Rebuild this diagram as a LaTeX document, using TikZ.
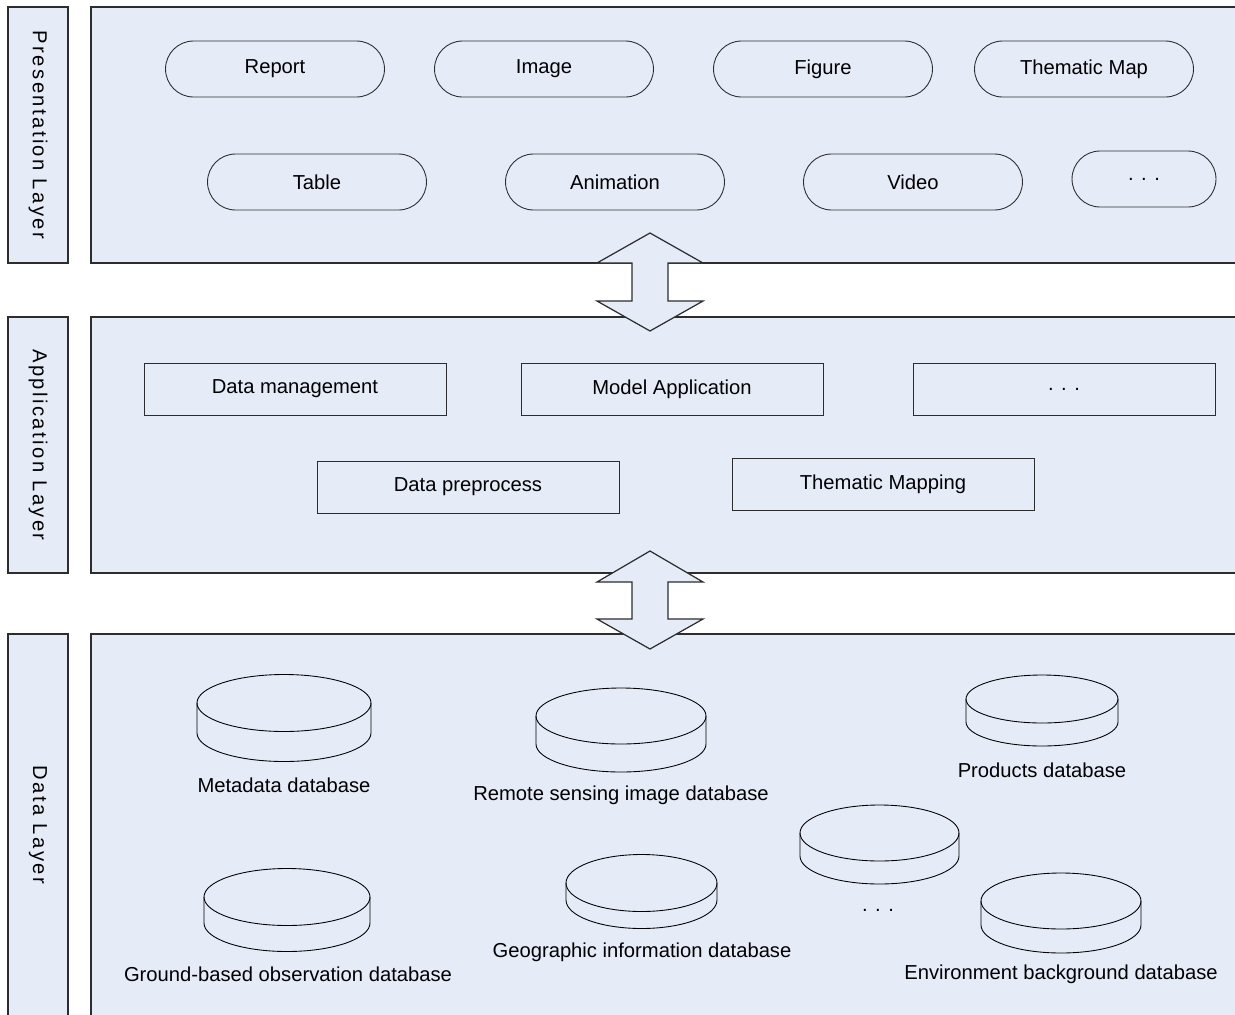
\documentclass[tikz,border=0pt]{standalone}
\usepackage{fontspec}
\setmainfont{Liberation Sans}
\usepackage{tikz}
\usetikzlibrary{shapes.misc}
\definecolor{panelblue}{RGB}{230,236,247}
\definecolor{edgegray}{RGB}{45,45,45}

\begin{document}
\begin{tikzpicture}[x=0.02cm, y=0.02cm, font=\fontsize{11.5}{13}\selectfont,
    panel/.style = {draw=edgegray, fill=panelblue, line width=0.7pt},
    pill/.style = {rounded rectangle, draw=edgegray, line width=0.5pt, minimum width=4.38cm, minimum height=1.12cm, inner sep=0pt},
    appbox/.style = {rectangle, draw=edgegray, line width=0.5pt, minimum width=6.04cm, minimum height=1.04cm, inner sep=0pt},
    layertext/.style = {rotate=-90, inner sep=0pt, font=\fontsize{11.5}{13}\selectfont\addfontfeatures{LetterSpace=12}},
    dbline/.style = {draw=black, line width=0.5pt}]
            \useasboundingbox (0,0) rectangle (1235,-1015);
            \fill[white] (0,0) rectangle (1235,-1015);

            \draw[panel] (8,-7) rectangle (68,-263);
            \draw[panel] (91,-7) rectangle (1245,-263);
            \draw[panel] (8,-317) rectangle (68,-573);
            \draw[panel] (91,-317) rectangle (1245,-573);
            \draw[panel] (8,-634) rectangle (68,-1025);
            \draw[panel] (91,-634) rectangle (1245,-1025);

            \node[layertext] (presl) at (38,-135) {Presentation Layer};
            \node[layertext] (appl) at (38,-445) {Application Layer};
            \node[layertext] (datal) at (38,-825) {Data Layer};

            \node[pill] (report) at (275,-69) {Report};
            \node[pill] (image) at (544,-69) {Image};
            \node[pill] (figure) at (823,-69) {Figure};
            \node[pill] (thmap) at (1084,-69) {Thematic Map};
            \node[pill] (table) at (317,-182) {Table};
            \node[pill] (anim) at (615,-182) {Animation};
            \node[pill] (video) at (913,-182) {Video};
            \node[pill, minimum width=2.88cm] (presmore) at (1144,-179) {. . .};

            \draw[panel] (650,-233) -- (703,-263) -- (668,-263) -- (668,-301) -- (703,-301) -- (650,-331)
                -- (597,-301) -- (632,-301) -- (632,-263) -- (597,-263) -- cycle;
            \draw[panel] (650,-551) -- (703,-582) -- (668,-582) -- (668,-619) -- (703,-619) -- (650,-649)
                -- (597,-619) -- (632,-619) -- (632,-582) -- (597,-582) -- cycle;

            \node[appbox] (datamgmt) at (295,-389) {Data management};
            \node[appbox] (modelapp) at (672,-389) {Model Application};
            \node[appbox] (appmore) at (1064,-389) {. . .};
            \node[appbox] (preproc) at (468,-487) {Data preprocess};
            \node[appbox] (thmapping) at (883,-484) {Thematic Mapping};

            \foreach \cx/\cy/\rx/\ry/\h in {284/703/87/28.5/30, 621/716/85/28/28, 1042/699/76/24/23,
                    287/897/83/28.5/26, 641.5/883/75.5/28.5/17, 879.5/833/79.5/28/23, 1061/901/80/28/24}
            {
                \draw[dbline] (\cx-\rx,-\cy) -- ++(0,-\h) arc[start angle=180, end angle=360, x radius=\rx, y radius=\ry] -- ++(0,\h);
                \draw[dbline] (\cx,-\cy) ellipse [x radius=\rx, y radius=\ry];
            }

            \node (metadb) at (284,-785) {Metadata database};
            \node (rsdb) at (621,-795) {Remote sensing image database};
            \node (proddb) at (1042,-770) {Products database};
            \node (grounddb) at (288,-974) {Ground-based observation database};
            \node (geodb) at (642,-952) {Geographic information database};
            \node (datamore) at (878,-910) {. . .};
            \node (envdb) at (1061,-974) {Environment background database};
          \end{tikzpicture}
\end{document}
